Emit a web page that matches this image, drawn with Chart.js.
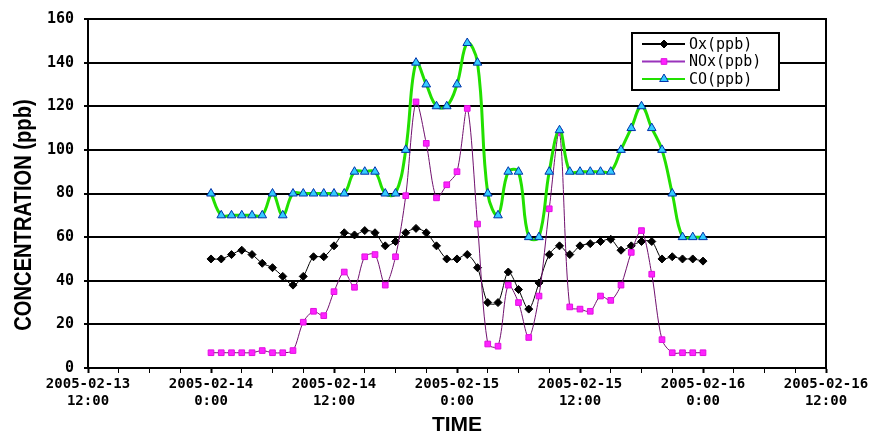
<!DOCTYPE html>
<html>
<head>
<meta charset="utf-8">
<script src="https://cdn.jsdelivr.net/npm/chart.js@4.4.1/dist/chart.umd.min.js"></script>
<style>
  html, body { margin: 0; padding: 0; background: #fff; }
  #wrap { width: 875px; height: 439px; position: relative; }
</style>
</head>
<body>
<div id="wrap"><canvas id="chart" width="875" height="439"></canvas></div>
<script>
// hourly readings, 2005-02-14 0:00 .. 2005-02-16 0:00
const oxValues = [50, 50, 52, 54, 52, 48, 46, 42, 38, 42, 51, 51, 56, 62, 61, 63, 62, 56, 58, 62,
  64, 62, 56, 50, 50, 52, 46, 30, 30, 44, 36, 27, 39, 52, 56, 52, 56, 57, 58, 59,
  54, 56, 58, 58, 50, 51, 50, 50, 49];
const noxValues = [7, 7, 7, 7, 7, 8, 7, 7, 8, 21, 26, 24, 35, 44, 37, 51, 52, 38, 51, 79,
  122, 103, 78, 84, 90, 119, 66, 11, 10, 38, 30, 14, 33, 73, 108, 28, 27, 26, 33, 31,
  38, 53, 63, 43, 13, 7, 7, 7, 7];
const coValues = [80, 70, 70, 70, 70, 70, 80, 70, 80, 80, 80, 80, 80, 80, 90, 90, 90, 80, 80, 100,
  140, 130, 120, 120, 130, 149, 140, 80, 70, 90, 90, 60, 60, 90, 109, 90, 90, 90, 90, 90,
  100, 110, 120, 110, 100, 80, 60, 60, 60];

// x ticks every 12 h, starting at 2005-02-13 12:00 (hour -12)
const tickDates = ['2005-02-13', '2005-02-14', '2005-02-14', '2005-02-15', '2005-02-15', '2005-02-16', '2005-02-16'];
const tickTimes = ['12:00', '0:00', '12:00', '0:00', '12:00', '0:00', '12:00'];
const yTitle = 'CONCENTRATION (ppb)';

const toPoints = vals => vals.map((v, i) => ({ x: i, y: v }));

const monoFont = "'DejaVu Sans Mono', 'Liberation Mono', monospace";
const sansFont = "'Liberation Sans', Arial, sans-serif";
Chart.defaults.font.family = monoFont;
Chart.defaults.color = '#000';

// y title (condensed), frame around the chart area, legend box inside the plot
const boxPlugin = {
  id: 'boxPlugin',
  afterDatasetsDraw(chart) {
    const { ctx, chartArea: a } = chart;
    ctx.save();
    ctx.strokeStyle = '#000';
    ctx.lineWidth = 2;
    ctx.strokeRect(a.left, a.top, a.right - a.left, a.bottom - a.top);

    ctx.save();
    ctx.translate(24, 215);
    ctx.rotate(-Math.PI / 2);
    ctx.scale(0.84, 1);
    ctx.font = "bold 24px " + sansFont;
    ctx.textAlign = 'center';
    ctx.textBaseline = 'middle';
    ctx.fillStyle = '#000';
    ctx.fillText(yTitle, 0, 0);
    ctx.restore();

    const bx = 632, by = 33, bw = 147, bh = 57;
    ctx.fillStyle = '#fff';
    ctx.fillRect(bx, by, bw, bh);
    ctx.strokeRect(bx, by, bw, bh);
    ctx.font = "15px " + monoFont;
    ctx.textBaseline = 'middle';
    chart.data.datasets.forEach((ds, i) => {
      const y = by + 11 + i * 17.5;
      ctx.strokeStyle = ds.legendLine;
      ctx.lineWidth = 2;
      ctx.beginPath();
      ctx.moveTo(bx + 10, y);
      ctx.lineTo(bx + 53, y);
      ctx.stroke();
      const style = { pointStyle: ds.pointStyle, radius: ds.pointRadius, rotation: 0, borderWidth: 1 };
      ctx.fillStyle = ds.pointBackgroundColor;
      ctx.strokeStyle = ds.pointBorderColor;
      ctx.lineWidth = 1;
      Chart.helpers.drawPoint(ctx, style, bx + 32, y);
      ctx.fillStyle = '#000';
      ctx.fillText(ds.label, bx + 57, y + 1);
    });
    ctx.restore();
  }
};

new Chart(document.getElementById('chart'), {
  type: 'line',
  data: {
    datasets: [
      {
        label: 'Ox(ppb)',
        data: toPoints(oxValues),
        borderColor: '#000',
        borderWidth: 1,
        tension: 0.3,
        pointStyle: 'rectRot',
        pointRadius: 4,
        pointBackgroundColor: '#000',
        pointBorderColor: '#000',
        pointBorderWidth: 1,
        legendLine: '#000',
        order: 2
      },
      {
        label: 'NOx(ppb)',
        data: toPoints(noxValues),
        borderColor: '#70106e',
        borderWidth: 1,
        tension: 0.3,
        pointStyle: 'rect',
        pointRadius: 4,
        pointBackgroundColor: '#ff22ff',
        pointBorderColor: '#e010e0',
        pointBorderWidth: 1,
        legendLine: '#9933bb',
        order: 1
      },
      {
        label: 'CO(ppb)',
        data: toPoints(coValues),
        borderColor: '#22e000',
        borderWidth: 3,
        tension: 0.4,
        pointStyle: 'triangle',
        pointRadius: 5,
        pointBackgroundColor: '#33ccff',
        pointBorderColor: '#0033aa',
        pointBorderWidth: 1,
        legendLine: '#22e000',
        order: 0
      }
    ]
  },
  options: {
    responsive: false,
    animation: false,
    layout: { padding: { top: 18, right: 49, left: 0, bottom: 0 } },
    plugins: {
      legend: { display: false },
      tooltip: { enabled: false }
    },
    scales: {
      x: {
        type: 'linear',
        min: -12,
        max: 60,
        afterFit: s => { s.height = 71; },
        border: { display: true, color: '#000', width: 2 },
        grid: {
          drawOnChartArea: false,
          color: '#000',
          tickLength: 5,
          tickWidth: c => (c.tick && c.tick.value % 12 === 0 ? 2 : 1)
        },
        ticks: {
          stepSize: 3,
          autoSkip: false,
          maxRotation: 0,
          padding: 3,
          font: { size: 14, weight: 'bold' },
          callback: v => (v % 12 === 0 ? [tickDates[(v + 12) / 12], tickTimes[(v + 12) / 12]] : '')
        },
        title: {
          display: true,
          text: 'TIME',
          font: { family: sansFont, size: 21, weight: 'bold' },
          padding: { top: 0, bottom: 1 }
        }
      },
      y: {
        min: 0,
        max: 160,
        afterFit: s => { s.width = 88; },
        border: { display: true, color: '#000', width: 2 },
        grid: { color: '#000', lineWidth: 2, tickLength: 4 },
        ticks: { stepSize: 20, padding: 10, font: { size: 15, weight: 'bold' } },
        title: { display: false }
      }
    }
  },
  plugins: [boxPlugin]
});
</script>
</body>
</html>
